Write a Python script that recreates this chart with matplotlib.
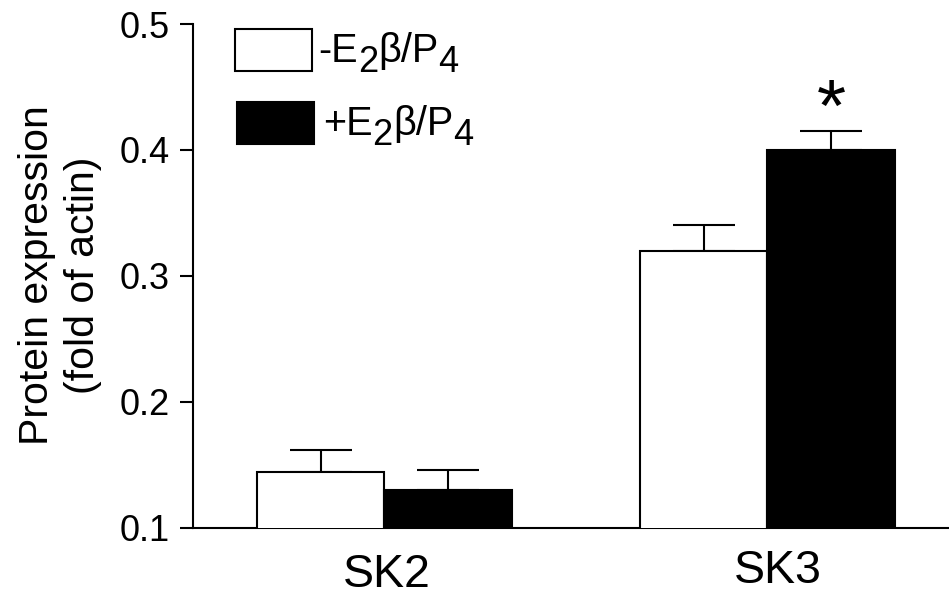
import matplotlib
matplotlib.use("Agg")
import matplotlib.pyplot as plt
from matplotlib.patches import Rectangle
import matplotlib.transforms as mtransforms
import numpy as np

plt.rcParams['font.family'] = ['Liberation Sans', 'DejaVu Sans']

# ---- data ----
categories = ["SK2", "SK3"]
minus_means = [0.144, 0.320]
minus_err = [0.018, 0.020]
plus_means = [0.130, 0.400]
plus_err = [0.016, 0.015]
yticks = [0.1, 0.2, 0.3, 0.4, 0.5]
ytick_labels = ["0.1", "0.2", "0.3", "0.4", "0.5"]
legend_pieces = [
    [("-E", 0), ("2", 1), ("\u03b2/P", 0), ("4", 1)],
    [("+E", 0), ("2", 1), ("\u03b2/P", 0), ("4", 1)],
]
ylabel = "Protein expression\n(fold of actin)"
sig_marks = ["", "*"]

W, H = 949, 597
fig = plt.figure(figsize=(W / 100, H / 100), dpi=100)
ax_left, ax_right, ax_top, ax_bot = 193, 949, 24, 527.7
ax = fig.add_axes([ax_left / W, (H - ax_bot) / H, (ax_right - ax_left) / W, (ax_bot - ax_top) / H])

x = np.arange(len(categories))
bw = 0.334
lw = 1.5

ax.bar(x - bw / 2, minus_means, bw, color="white", edgecolor="black", linewidth=lw, zorder=3)
ax.bar(x + bw / 2, plus_means, bw, color="black", edgecolor="black", linewidth=lw, zorder=3)
cap = 22.5
ax.errorbar(x - bw / 2, minus_means, yerr=[np.zeros(2), minus_err], fmt="none",
            ecolor="black", elinewidth=lw, capsize=cap, capthick=lw, zorder=2)
ax.errorbar(x + bw / 2, plus_means, yerr=[np.zeros(2), plus_err], fmt="none",
            ecolor="black", elinewidth=lw, capsize=cap, capthick=lw, zorder=2)

for i, m in enumerate(sig_marks):
    if m:
        ax.text(x[i] + bw / 2, plus_means[i] + plus_err[i] + 0.0005, m, ha="center",
                va="baseline", fontsize=54, color="black")

ax.set_xlim(-0.5, 1.474)
ax.set_ylim(0.1, 0.5)
ax.set_yticks(yticks)
ax.set_yticklabels(ytick_labels, fontsize=26)
ax.tick_params(axis="y", length=9.5, width=lw, pad=7, direction="out", colors="black")
ax.set_xticks([])
for s in ["top", "right"]:
    ax.spines[s].set_visible(False)
for s in ["left", "bottom"]:
    ax.spines[s].set_linewidth(lw)

# category labels
trans = mtransforms.blended_transform_factory(ax.transData, ax.transAxes)
cat_offsets = [0.0065, 1.027]
cat_base_px = [587.0, 583.0]
for i, c in enumerate(categories):
    yb = (ax_bot - cat_base_px[i]) / (ax_bot - ax_top)
    ax.text(cat_offsets[i], yb, c, transform=trans, ha="center", va="baseline",
            fontsize=33.5)

# y label
fig.text(60 / W, (H - 275) / H, ylabel, rotation=90, ha="center", va="center",
         fontsize=29.5, multialignment="center", linespacing=1.3)

# legend (manual)
boxes = [(235, 29, 77, 42, "white"), (237, 102, 77, 42, "black")]
for (bx, by, bwid, bh, col) in boxes:
    fig.patches.append(Rectangle((bx / W, (H - by - bh) / H), bwid / W, bh / H,
                                 transform=fig.transFigure, facecolor=col,
                                 edgecolor="black", linewidth=lw))

renderer = fig.canvas.get_renderer()
starts = [(318, 62), (323, 135)]
for (sx, sy), pieces in zip(starts, legend_pieces):
    xp = sx
    for s, sub in pieces:
        fs = 26 if sub else 28.5
        dy = 10 if sub else 0
        t = fig.text(xp / W, (H - sy - dy) / H, s, fontsize=fs, ha="left", va="baseline")
        bb = t.get_window_extent(renderer)
        xp += bb.width

fig.savefig("out.png", dpi=100)
